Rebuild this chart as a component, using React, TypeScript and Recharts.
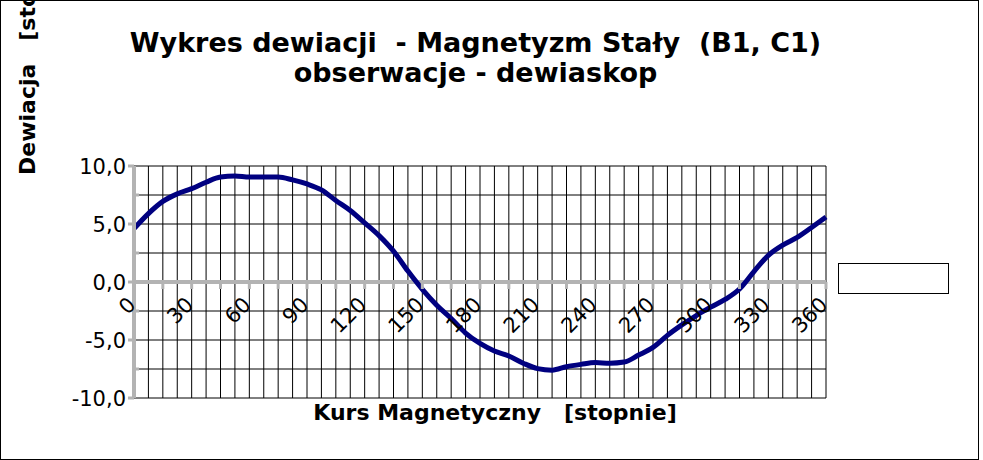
import { LineChart, Line, XAxis, YAxis, CartesianGrid, ReferenceLine } from 'recharts';

// kurs magnetyczny [stopnie] – co 7,5°
const kurs = [
  0, 7.5, 15, 22.5, 30, 37.5, 45, 52.5, 60, 67.5, 75, 82.5, 90, 97.5, 105, 112.5, 120,
  127.5, 135, 142.5, 150, 157.5, 165, 172.5, 180, 187.5, 195, 202.5, 210, 217.5, 225,
  232.5, 240, 247.5, 255, 262.5, 270, 277.5, 285, 292.5, 300, 307.5, 315, 322.5, 330,
  337.5, 345, 352.5, 360,
];

// dewiacja [stopnie]
const dewiacja = [
  4.6, 5.9, 6.95, 7.6, 8.05, 8.6, 9.05, 9.14, 9.05, 9.05, 9.05, 8.8, 8.45, 7.94, 7.03,
  6.17, 5.1, 4.0, 2.66, 0.94, -0.63, -2.0, -3.14, -4.4, -5.3, -5.95, -6.38, -7.0, -7.47,
  -7.6, -7.3, -7.1, -6.95, -7.0, -6.9, -6.3, -5.64, -4.6, -3.7, -2.89, -2.17, -1.5, -0.6,
  0.9, 2.3, 3.18, 3.84, 4.7, 5.6,
];

const xTicks = [0, 15, 30, 45, 60, 75, 90, 105, 120, 135, 150, 165, 180, 195, 210, 225, 240, 255, 270, 285, 300, 315, 330, 345, 360];
const yTicks = [-10, -7.5, -5, -2.5, 0, 2.5, 5, 7.5, 10];

const data = kurs.map((k, i) => ({ kurs: k, dev: dewiacja[i] }));

const W = 983;
const H = 460;
const TOP = 166;
const BOTTOM = 62;
const PLOT_H = H - TOP - BOTTOM;
const GRAY = '#b3b3b3';
const FONT = '"DejaVu Sans", sans-serif';

const fmt = (v: number) => v.toFixed(1).replace('.', ',');

function XTick(props: any) {
  const { x, y, payload } = props;
  // y is the bottom of the plot; the category axis sits on the zero line, mid-height
  const zeroY = y - PLOT_H / 2;
  const v = payload.value;
  return (
    <g>
      <line x1={x} x2={x} y1={zeroY} y2={zeroY + 7} stroke={GRAY} strokeWidth={3} />
      {v % 30 === 0 && (
        <text
          x={x + 3}
          y={zeroY + 24}
          transform={`rotate(-45, ${x + 3}, ${zeroY + 24})`}
          textAnchor="end"
          fontSize={21}
          fontFamily={FONT}
          fill="#000"
        >
          {v}
        </text>
      )}
    </g>
  );
}

function YTick(props: any) {
  const { x, y, payload } = props;
  const v = payload.value;
  const major = v % 5 === 0;
  return (
    <g>
      {major ? (
        <line x1={x - 6} x2={x} y1={y} y2={y} stroke={GRAY} strokeWidth={3} />
      ) : (
        <line x1={x} x2={x + 5} y1={y} y2={y} stroke={GRAY} strokeWidth={3} />
      )}
      {major && (
        <text x={x - 8} y={y + 7.5} textAnchor="end" fontSize={21} fontFamily={FONT} fill="#000">
          {fmt(v)}
        </text>
      )}
    </g>
  );
}

export default function App() {
  return (
    <div style={{ position: 'absolute', left: 0, top: 0, width: W, height: H, background: '#fff' }}>
      <div
        style={{
          position: 'absolute',
          left: 0,
          top: 0,
          width: 979,
          height: 460,
          border: '1px solid #000',
          boxSizing: 'border-box',
        }}
      />
      <div style={{ position: 'absolute', left: 0, top: 0 }}>
        <LineChart width={W} height={H} data={data} margin={{ top: TOP, right: 157, bottom: 0, left: 0 }}>
          <CartesianGrid stroke="#000" strokeWidth={1} horizontalValues={yTicks} verticalValues={kurs} />
          <ReferenceLine y={0} stroke={GRAY} strokeWidth={4} />
          <XAxis
            type="number"
            dataKey="kurs"
            domain={[0, 360]}
            ticks={xTicks}
            interval={0}
            height={BOTTOM}
            axisLine={false}
            tickLine={false}
            tickSize={0}
            tickMargin={0}
            tick={<XTick />}
          />
          <YAxis
            type="number"
            domain={[-10, 10]}
            ticks={yTicks}
            interval={0}
            width={134}
            axisLine={{ stroke: GRAY, strokeWidth: 4 }}
            tickLine={false}
            tickSize={0}
            tickMargin={0}
            tick={<YTick />}
          />
          <Line
            type="monotone"
            dataKey="dev"
            stroke="#000080"
            strokeWidth={5}
            dot={false}
            isAnimationActive={false}
          />
        </LineChart>
      </div>
      <div
        style={{
          position: 'absolute',
          left: 838,
          top: 263,
          width: 111,
          height: 31,
          border: '1px solid #000',
          boxSizing: 'border-box',
        }}
      />
      <svg width={W} height={H} style={{ position: 'absolute', left: 0, top: 0, pointerEvents: 'none' }}>
        <text x={475.5} y={52} textAnchor="middle" fontFamily={FONT} fontWeight="bold" fontSize={27} style={{ whiteSpace: 'pre' }}>
          Wykres dewiacji  - Magnetyzm Stały  (B1, C1)
        </text>
        <text x={475.5} y={82} textAnchor="middle" fontFamily={FONT} fontWeight="bold" fontSize={27} style={{ whiteSpace: 'pre' }}>
          obserwacje - dewiaskop
        </text>
        <text x={495} y={419.5} textAnchor="middle" fontFamily={FONT} fontWeight="bold" fontSize={22} style={{ whiteSpace: 'pre' }}>
          Kurs Magnetyczny   [stopnie]
        </text>
        <text
          x={35}
          y={175}
          transform="rotate(-90, 35, 175)"
          textAnchor="start"
          fontFamily={FONT}
          fontWeight="bold"
          fontSize={22}
          style={{ whiteSpace: 'pre' }}
        >
          Dewiacja   [stopnie]
        </text>
      </svg>
    </div>
  );
}
